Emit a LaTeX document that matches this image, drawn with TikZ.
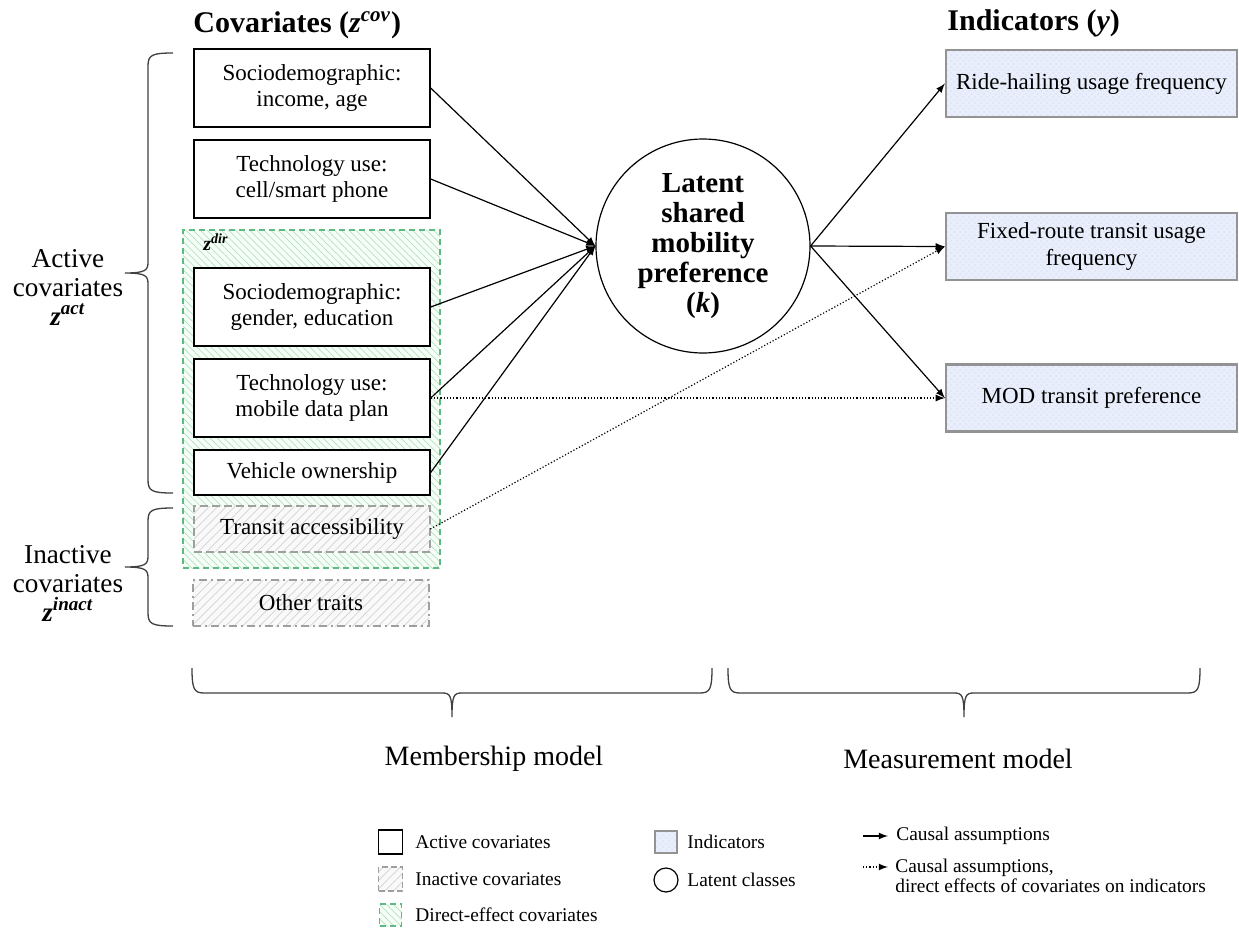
\documentclass[tikz,border=0pt]{standalone}
\usepackage{fontspec}
\setmainfont{Liberation Serif}
\usetikzlibrary{positioning,patterns,patterns.meta}
\newcommand{\zsup}[1]{\textbf{\textit{z}\textsuperscript{\textit{#1}}}}
\newcommand{\cbfont}{\fontsize{11.5}{13.2}\selectfont}
\definecolor{dirgreen}{RGB}{95,185,130}
\definecolor{indblue}{RGB}{232,239,250}
\tikzset{
  box/.style={minimum width=118pt, minimum height=39pt, inner sep=1pt, align=center, font=\cbfont},
  cov/.style={box, draw, line width=0.7pt, fill=white},
  inact/.style={box, draw=gray!75, line width=0.7pt, preaction={fill=gray!5}, pattern={Lines[angle=45,distance=3pt,line width=0.35pt]}, pattern color=gray!35},
  dirbox/.style={draw=dirgreen, line width=0.6pt, densely dashed, preaction={fill=green!4}, pattern={Lines[angle=-45,distance=2.5pt,line width=0.35pt]}, pattern color=dirgreen!45},
  ind/.style={draw=gray!85, line width=1.1pt, preaction={fill=indblue}, pattern=crosshatch dots, pattern color=blue!12, minimum width=145.5pt, minimum height=33.5pt, inner sep=1pt, align=center, font=\cbfont},
  lat/.style={circle, draw, line width=0.6pt, minimum size=107pt, inner sep=0, align=center, font=\fontsize{14.5}{15}\selectfont\bfseries},
  hd/.style={font=\fontsize{15}{17}\selectfont\bfseries, inner sep=0},
  lab/.style={align=center, inner sep=0, font=\fontsize{13.6}{14.5}\selectfont},
  mdl/.style={inner sep=0, font=\fontsize{14}{16}\selectfont},
  lg/.style={inner sep=0, align=left, font=\fontsize{9.7}{10}\selectfont},
  conn/.style={-latex, line width=0.6pt},
  dirconn/.style={-latex, line width=0.6pt, densely dotted},
  brc/.style={line width=0.65pt, black!75}
}

\begin{document}
\begin{tikzpicture}[x=0.5pt, y=-0.5pt]
    \useasboundingbox[fill=white] (0,0) rectangle (1239,928);

    % headings
    \node[hd, anchor=west] (hcov) at (193, 25) {Covariates (\zsup{cov})};
    \node[hd, anchor=west] (hind) at (947, 23) {Indicators (\textit{y})};

    % direct-effect group
    \node[dirbox, minimum width=128.5pt, minimum height=169pt] (D) at (311.5, 399) {};
    \node[anchor=west, inner sep=0, font=\fontsize{10}{12}\selectfont] (zd) at (203, 242) {\zsup{dir}};

    % covariates
    \node[cov] (C1) at (312, 88) {Sociodemographic:\\income, age};
    \node[cov] (C2) at (312, 179) {Technology use:\\cell/smart phone};
    \node[cov] (C3) at (312, 307) {Sociodemographic:\\gender, education};
    \node[cov] (C4) at (312, 398) {Technology use:\\mobile data plan};
    \node[cov, minimum height=22.5pt] (C5) at (312, 472.5) {Vehicle ownership};
    \node[inact, minimum height=23pt, dash pattern=on 4pt off 2pt] (C6) at (312, 529) {Transit accessibility};
    \node[inact, minimum height=23pt, dash pattern=on 4pt off 2pt on 1pt off 2pt] (C7) at (311, 603) {Other traits};

    % latent class
    \node[lat] (L) at (703, 246) {Latent\\shared\\mobility\\preference\\(\textit{k})};

    % indicators
    \node[ind] (I1) at (1091.5, 83.5) {Ride-hailing usage frequency};
    \node[ind] (I2) at (1091.5, 246.5) {Fixed-route transit usage\\frequency};
    \node[ind] (I3) at (1091.5, 398) {MOD transit preference};

    \foreach \x in {1,...,5}
    {
      \draw[conn] (C\x.east) -- (L.west);
    }
    \foreach \x in {1,2,3}
    {
      \draw[conn] (L.east) -- (I\x.west);
    }
    \draw[dirconn] (C4.east) -- (I3.west);
    \draw[dirconn] (C6.east) -- (I2.west);

    % braces
    \draw[brc] (173,53) .. controls (152,53) and (148,55) .. (148,66) -- (148,262)
      .. controls (148,270) and (146,273) .. (125,273) .. controls (146,273) and (148,276) .. (148,284)
      -- (148,480) .. controls (148,491) and (152,493) .. (173,493);
    \draw[brc] (173,508) .. controls (152,508) and (148,510) .. (148,521) -- (148,556)
      .. controls (148,564) and (146,567) .. (125,567) .. controls (146,567) and (148,570) .. (148,578)
      -- (148,613) .. controls (148,624) and (152,626) .. (173,626);
    \node[lab] (act) at (68, 287) {Active\\covariates\\\zsup{act}};
    \node[lab] (inact) at (68, 583) {Inactive\\covariates\\\zsup{inact}};

    \draw[brc] (192,668) .. controls (192,689) and (194,693) .. (204,693) -- (442,693)
      .. controls (450,693) and (452,695) .. (452,717) .. controls (452,695) and (454,693) .. (462,693)
      -- (700,693) .. controls (710,693) and (712,689) .. (712,668);
    \draw[brc] (728,668) .. controls (728,689) and (730,693) .. (740,693) -- (954,693)
      .. controls (962,693) and (964,695) .. (964,717) .. controls (964,695) and (966,693) .. (974,693)
      -- (1188,693) .. controls (1198,693) and (1200,689) .. (1200,668);
    \node[mdl] (mem) at (494, 759) {Membership model};
    \node[mdl] (meas) at (958, 759) {Measurement model};

    % legend
    \node[draw, line width=0.7pt, minimum size=12pt, inner sep=0] (k1) at (390.5, 842) {};
    \node[inact, minimum width=12pt, minimum height=12pt, inner sep=0, dash pattern=on 3pt off 1.5pt] (k2) at (390.5, 879) {};
    \node[dirbox, minimum size=11pt, inner sep=0] (k3) at (390.5, 915) {};
    \node[lg, anchor=west] (t1) at (415, 842) {Active covariates};
    \node[lg, anchor=west] (t2) at (415, 879) {Inactive covariates};
    \node[lg, anchor=west] (t3) at (415, 915) {Direct-effect covariates};

    \node[ind, minimum width=11pt, minimum height=11pt, inner sep=0] (k4) at (666, 842) {};
    \node[circle, draw, line width=0.6pt, minimum size=12pt, inner sep=0] (k5) at (666, 880) {};
    \node[lg, anchor=west] (t4) at (687, 842) {Indicators};
    \node[lg, anchor=west] (t5) at (687, 880) {Latent classes};

    \coordinate (a1) at (863, 836);
    \coordinate (a2) at (888, 836);
    \coordinate (b1) at (863, 867);
    \coordinate (b2) at (888, 867);
    \draw[conn] (a1) -- (a2);
    \draw[dirconn] (b1) -- (b2);
    \node[lg, anchor=west] (t6) at (896, 836) {Causal assumptions};
    \node[lg, anchor=north west] (t7) at (895, 859) {Causal assumptions,\\direct effects of covariates on indicators};
\end{tikzpicture}
\end{document}
